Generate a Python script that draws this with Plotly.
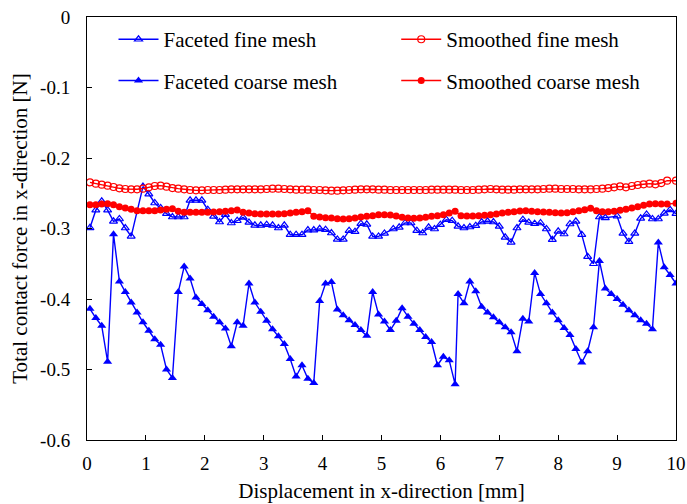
import plotly.graph_objects as go

# ---------------- data ----------------
# Faceted fine mesh
ff_x = [0.05, 0.15, 0.25, 0.35, 0.45, 0.55, 0.65, 0.75] + [round(0.95 + 0.1 * i, 2) for i in range(42)] \
       + [round(5.2 + 0.1 * i, 1) for i in range(37)] + [round(9.0 + 0.1 * i, 1) for i in range(10)] + [10.0]
ff_y = [-0.299, -0.274, -0.2614, -0.274, -0.2898, -0.2865, -0.2993, -0.3111,
        -0.2405, -0.2511, -0.2638, -0.2709, -0.279, -0.2837, -0.2837, -0.2837, -0.260, -0.260,
        -0.260, -0.2733, -0.2827, -0.2908, -0.2804, -0.2922, -0.289, -0.2842, -0.2913, -0.2955,
        -0.2955, -0.2946, -0.2955, -0.2993, -0.2955, -0.3088, -0.3088, -0.3088, -0.3022, -0.3022,
        -0.3005, -0.3017, -0.3064, -0.3154, -0.3154, -0.3031, -0.3045, -0.2932, -0.2941, -0.3112,
        -0.3112, -0.307,
        -0.3007, -0.2983, -0.2922, -0.2922, -0.3031, -0.3064, -0.2983, -0.3007, -0.2946, -0.2875,
        -0.2889, -0.2969, -0.2993, -0.2979, -0.296, -0.2908, -0.2898, -0.2908, -0.2969, -0.3125,
        -0.3196, -0.2993, -0.2875, -0.2913, -0.2931, -0.2922, -0.3007, -0.3158, -0.304, -0.3078,
        -0.2936, -0.2898, -0.3087, -0.340, -0.350, -0.2837, -0.2848,
        -0.2825, -0.3069, -0.3187, -0.3069, -0.2856, -0.280, -0.2865, -0.2865, -0.2785, -0.2735,
        -0.279]

# Smoothed fine / coarse mesh share one grid
sm_x = [round(0.05 + 0.1 * i, 2) for i in range(99)] + [10.0]
sf_y = [-0.2345, -0.2364, -0.2378, -0.2392, -0.2411, -0.2430, -0.2440, -0.2444, -0.2444, -0.2435,
        -0.2416, -0.2397, -0.2392, -0.2407, -0.2426, -0.2435, -0.2444, -0.2454, -0.2459, -0.2459,
        -0.2454, -0.2454, -0.2454, -0.2449, -0.2444, -0.2444,
        -0.2444, -0.2444, -0.2444, -0.2444, -0.2440, -0.2435, -0.2435, -0.2440, -0.2444, -0.2449,
        -0.2449, -0.2449, -0.2454, -0.2454, -0.2459, -0.2463, -0.2463, -0.2459, -0.2454, -0.2449,
        -0.2444, -0.2444, -0.2444, -0.2449,
        -0.2449, -0.2454, -0.2454, -0.2454, -0.2454, -0.2454, -0.2454, -0.2454, -0.2449, -0.2449,
        -0.2449, -0.2449, -0.2449, -0.2454, -0.2454, -0.2454, -0.2449, -0.2444, -0.2440, -0.2444,
        -0.2449, -0.2449, -0.2449, -0.2444, -0.2444,
        -0.2444, -0.2444, -0.2440, -0.2435, -0.2435, -0.2440, -0.2440, -0.2440, -0.2444, -0.2444,
        -0.2444, -0.2440, -0.2435, -0.2426, -0.2416, -0.2402, -0.2416, -0.2397, -0.2383, -0.2373,
        -0.2364, -0.2373, -0.2355, -0.2322, -0.2322]
sc_y = [-0.2662, -0.2662, -0.2652, -0.2648, -0.2662, -0.2690, -0.2709, -0.2728, -0.2747, -0.2747,
        -0.2747, -0.2747, -0.2738, -0.2728, -0.2719, -0.2756, -0.2771, -0.2771, -0.2771, -0.2771,
        -0.2771, -0.2766, -0.2761, -0.2756, -0.2747, -0.2738,
        -0.2771, -0.2780, -0.2790, -0.2794, -0.2794, -0.2794, -0.2794, -0.2790, -0.2780, -0.2771,
        -0.2761, -0.2747, -0.2827, -0.2837, -0.2846, -0.2851, -0.2861, -0.2865, -0.2861, -0.2851,
        -0.2837, -0.2827, -0.2818, -0.2804,
        -0.2804, -0.2809, -0.2823, -0.2842, -0.2851, -0.2856, -0.2851, -0.2842, -0.2827, -0.2818,
        -0.2804, -0.2780, -0.2756, -0.2818, -0.2823, -0.2823, -0.2818, -0.2813, -0.2804, -0.2794,
        -0.2780, -0.2771, -0.2761, -0.2752, -0.2747,
        -0.2756, -0.2761, -0.2766, -0.2771, -0.2775, -0.2780, -0.2775, -0.2761, -0.2747, -0.2733,
        -0.2714, -0.2747, -0.2761, -0.2761, -0.2756, -0.2742, -0.2728, -0.2709, -0.2690, -0.2671,
        -0.2652, -0.2648, -0.2652, -0.2652, -0.2643]

# Faceted coarse mesh
fc_x = [round(0.05 + 0.1 * i, 2) for i in range(63)] + [round(6.3 + 0.1 * i, 1) for i in range(38)]
fc_y = [-0.414, -0.427, -0.438, -0.489, -0.308, -0.375, -0.390, -0.405, -0.419, -0.433,
        -0.445, -0.457, -0.465, -0.500, -0.512, -0.390, -0.354, -0.371, -0.398, -0.407,
        -0.416, -0.425, -0.433, -0.442, -0.467, -0.433, -0.438, -0.378, -0.405, -0.418,
        -0.431, -0.443, -0.453, -0.464, -0.485, -0.510, -0.494, -0.513, -0.519, -0.403,
        -0.378, -0.376, -0.415, -0.423, -0.430, -0.437, -0.444, -0.452, -0.390, -0.422,
        -0.432, -0.444, -0.431, -0.413, -0.425, -0.435, -0.444, -0.454, -0.461, -0.494,
        -0.482, -0.487, -0.521,
        -0.393, -0.406, -0.375, -0.389, -0.411, -0.419, -0.426, -0.433, -0.440, -0.447,
        -0.474, -0.428, -0.432, -0.363, -0.393, -0.406, -0.419, -0.430, -0.441, -0.451,
        -0.471, -0.490, -0.474, -0.440, -0.346, -0.385, -0.393, -0.400, -0.408, -0.416,
        -0.423, -0.430, -0.435, -0.443, -0.320, -0.355, -0.366, -0.378]

x_ticks = [0, 1, 2, 3, 4, 5, 6, 7, 8, 9, 10]
y_ticks = [0, -0.1, -0.2, -0.3, -0.4, -0.5, -0.6]
y_ticktext = ["0", "-0.1", "-0.2", "-0.3", "-0.4", "-0.5", "-0.6"]

# ---------------- figure ----------------
BLUE = "#0000FF"
RED = "#FF0000"
FONT = "Liberation Serif"

fig = go.Figure()
fig.add_trace(go.Scatter(x=ff_x, y=ff_y, mode="lines+markers", name="Faceted fine mesh",
                         line=dict(color=BLUE, width=1.4),
                         marker=dict(symbol="triangle-up-open", size=7, color=BLUE, line=dict(width=1.2)),
                         legend="legend", legendgroup="a"))
fig.add_trace(go.Scatter(x=fc_x, y=fc_y, mode="lines+markers", name="Faceted coarse mesh",
                         line=dict(color=BLUE, width=1.4),
                         marker=dict(symbol="triangle-up", size=8, color=BLUE),
                         legend="legend", legendgroup="b"))
fig.add_trace(go.Scatter(x=sm_x, y=sf_y, mode="lines+markers", name="Smoothed fine mesh",
                         line=dict(color=RED, width=1.4),
                         marker=dict(symbol="circle-open", size=7, color=RED, line=dict(width=1.2)),
                         legend="legend2", legendgroup="c"))
fig.add_trace(go.Scatter(x=sm_x, y=sc_y, mode="lines+markers", name="Smoothed coarse mesh",
                         line=dict(color=RED, width=1.4),
                         marker=dict(symbol="circle", size=7, color=RED),
                         legend="legend2", legendgroup="d"))

axis_common = dict(showline=True, linecolor="black", linewidth=1, mirror=True,
                   ticks="inside", ticklen=5, tickcolor="black", tickwidth=1,
                   showgrid=False, zeroline=False, automargin=False,
                   tickfont=dict(family=FONT, size=19, color="black"))

fig.update_layout(
    width=687, height=504,
    margin=dict(l=87, r=11, t=17, b=64),
    paper_bgcolor="white", plot_bgcolor="white",
    font=dict(family=FONT, size=19, color="black"),
    xaxis=dict(range=[0, 10], tickvals=x_ticks, ticklabelstandoff=6,
               title=dict(text="Displacement in x-direction [mm]", font=dict(family=FONT, size=21), standoff=10),
               **axis_common),
    yaxis=dict(range=[-0.6, 0], tickvals=y_ticks, ticktext=y_ticktext, ticklabelstandoff=12,
               title=dict(text="Total contact force in x-direction [N]", font=dict(family=FONT, size=21), standoff=6),
               **axis_common),
    legend=dict(x=0.045, y=0.995, xanchor="left", yanchor="top", orientation="v",
                tracegroupgap=11, bgcolor="rgba(0,0,0,0)", font=dict(family=FONT, size=21),
                itemwidth=40),
    legend2=dict(x=0.525, y=0.995, xanchor="left", yanchor="top", orientation="v",
                 tracegroupgap=11, bgcolor="rgba(0,0,0,0)", font=dict(family=FONT, size=21),
                 itemwidth=40),
)

fig.write_html("out.html")
